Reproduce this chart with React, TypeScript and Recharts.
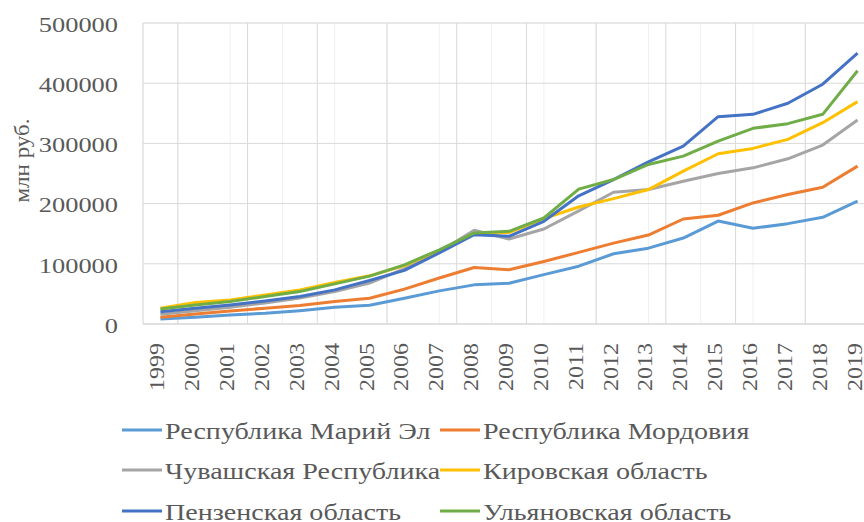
import React from 'react';
import { LineChart, Line, XAxis, YAxis, CartesianGrid, Legend } from 'recharts';

const years = [1999, 2000, 2001, 2002, 2003, 2004, 2005, 2006, 2007, 2008, 2009, 2010, 2011, 2012, 2013, 2014, 2015, 2016, 2017, 2018, 2019];

const mariEl = [8300, 11100, 15000, 17800, 22200, 27800, 31100, 42800, 55000, 65000, 67800, 82000, 96000, 116700, 126000, 142800, 171000, 158900, 166700, 177200, 204000];
const mordovia = [11100, 16700, 21700, 26100, 30600, 37200, 42800, 58000, 76500, 93900, 90000, 103900, 119000, 134400, 147800, 174400, 180600, 201100, 215000, 227200, 262200];
const chuvashia = [16000, 22000, 28000, 35000, 43000, 54000, 68000, 92000, 120000, 155600, 141100, 157800, 188000, 218900, 223300, 237200, 250000, 259400, 274400, 297200, 338900];
const kirov = [26100, 35600, 40000, 48300, 56700, 68900, 80000, 97000, 122000, 150000, 152000, 175000, 194400, 208300, 223300, 253900, 282800, 291700, 306700, 334400, 369400];
const penza = [20500, 26100, 31700, 38300, 45600, 56700, 72200, 89000, 118000, 148300, 145600, 170600, 213000, 240000, 269400, 295600, 344400, 348300, 366700, 398300, 450000];
const ulyanovsk = [25000, 31700, 37200, 45600, 53900, 66700, 79500, 98300, 123300, 151100, 153900, 176100, 224000, 240000, 265000, 278900, 303900, 325000, 332800, 348300, 420600];

const seriesNames = [
  'Республика Марий Эл',
  'Республика Мордовия',
  'Чувашская Республика',
  'Кировская область',
  'Пензенская область',
  'Ульяновская область',
];
const seriesValues = [mariEl, mordovia, chuvashia, kirov, penza, ulyanovsk];
const seriesColors = ['#5B9BD5', '#ED7D31', '#A5A5A5', '#FFC000', '#4472C4', '#70AD47'];

const yTicks = [0, 100000, 200000, 300000, 400000, 500000];
const yMinorTicks: number[] = [];
for (let v = 0; v <= 500000; v += 20000) yMinorTicks.push(v);
const xMajorTicks: number[] = [];
for (let v = 1998.5; v <= 2019.5; v += 1) xMajorTicks.push(v);
const xMinorTicks: number[] = [];
for (let v = 1998.5; v <= 2019.5; v += 0.5) xMinorTicks.push(v);

const yAxisLabel = 'млн руб.';

const data = years.map((year, i) => {
  const row: Record<string, number> = { year };
  seriesNames.forEach((_, s) => {
    row['s' + s] = seriesValues[s][i];
  });
  return row;
});

const FONT = 'Liberation Serif, Tinos, Times New Roman, DejaVu Serif, serif';
const TEXT = '#595959';
const textStyle = { fontFamily: FONT };

const XTick = (props: any) => {
  const { x, y, payload } = props;
  return (
    <g transform={`translate(${x},${y + 19}) rotate(-90) scale(1.2,1)`}>
      <text x={0} y={0} dy={4} textAnchor="end" fontSize={20} style={textStyle} fill={TEXT}>
        {payload.value}
      </text>
    </g>
  );
};

const YTick = (props: any) => {
  const { x, y, payload } = props;
  return (
    <g transform={`translate(${x - 25},${y + 1}) scale(1.2,1)`}>
      <text x={0} y={0} dy="0.35em" textAnchor="end" fontSize={22} style={textStyle} fill={TEXT}>
        {payload.value}
      </text>
    </g>
  );
};

const YLabel = (props: any) => {
  const vb = props.viewBox || { x: 0, y: 23, width: 143, height: 301 };
  return (
    <g transform={`translate(${vb.x + 22},${vb.y + vb.height / 2 - 13}) rotate(-90) scale(1.15,1)`}>
      <text x={0} y={0} dy="0.35em" textAnchor="middle" fontSize={20} style={textStyle} fill={TEXT}>
        {yAxisLabel}
      </text>
    </g>
  );
};

const legendCols = [122, 440];
const legendRows = [20, 60, 101];

const renderLegend = () => (
  <svg width={864} height={112} style={{ display: 'block' }}>
    {seriesNames.map((name, i) => {
      const lx = legendCols[i % 2];
      const ly = legendRows[Math.floor(i / 2)];
      return (
        <g key={name}>
          <line x1={lx} x2={lx + 40} y1={ly} y2={ly} stroke={seriesColors[i]} strokeWidth={3} />
          <g transform={`translate(${lx + 43},${ly + 9}) scale(1.17,1)`}>
            <text x={0} y={0} fontSize={24} style={textStyle} fill={TEXT}>
              {name}
            </text>
          </g>
        </g>
      );
    })}
  </svg>
);

export default function App() {
  return (
    <div
      style={{
        position: 'absolute',
        left: 0,
        top: 0,
        width: 864,
        height: 522,
        overflow: 'hidden',
        background: '#ffffff',
        fontFamily: FONT,
      }}
    >
      <LineChart
        width={880}
        height={522}
        data={data}
        margin={{ top: 23, right: 5, bottom: 118, left: 0 }}
      >
        <XAxis xAxisId="minor" type="number" dataKey="year" domain={[1998.5, 2019.5]} ticks={xMinorTicks} hide />
        <XAxis xAxisId="major" type="number" dataKey="year" domain={[1998.5, 2019.5]} ticks={xMajorTicks} hide />
        <YAxis yAxisId="minor" type="number" domain={[0, 500000]} ticks={yMinorTicks} hide />
        <CartesianGrid xAxisId="minor" yAxisId="minor" stroke="#f0f0f0" strokeWidth={1} />
        <CartesianGrid xAxisId="major" yAxisId={0} stroke="#d9d9d9" strokeWidth={1} />
        <XAxis
          dataKey="year"
          type="number"
          domain={[1998.5, 2019.5]}
          ticks={years}
          interval={0}
          height={80}
          tickLine={false}
          tickSize={0}
          tickMargin={0}
          axisLine={{ stroke: '#d9d9d9', strokeWidth: 1 }}
          tick={<XTick />}
        />
        <YAxis
          type="number"
          domain={[0, 500000]}
          ticks={yTicks}
          interval={0}
          width={143}
          axisLine={false}
          tickLine={false}
          tickSize={0}
          tickMargin={0}
          tick={<YTick />}
          label={{ content: (p: any) => <YLabel {...p} /> }}
        />
        {seriesNames.map((name, i) => (
          <Line
            key={name}
            type="linear"
            dataKey={'s' + i}
            name={name}
            stroke={seriesColors[i]}
            strokeWidth={3}
            dot={false}
            activeDot={false}
            strokeLinejoin="round"
            isAnimationActive={false}
          />
        ))}
        <Legend
          layout="horizontal"
          verticalAlign="middle"
          align="center"
          content={renderLegend}
          wrapperStyle={{ position: 'absolute', left: 0, top: 410, width: 864, height: 112 }}
        />
      </LineChart>
    </div>
  );
}
